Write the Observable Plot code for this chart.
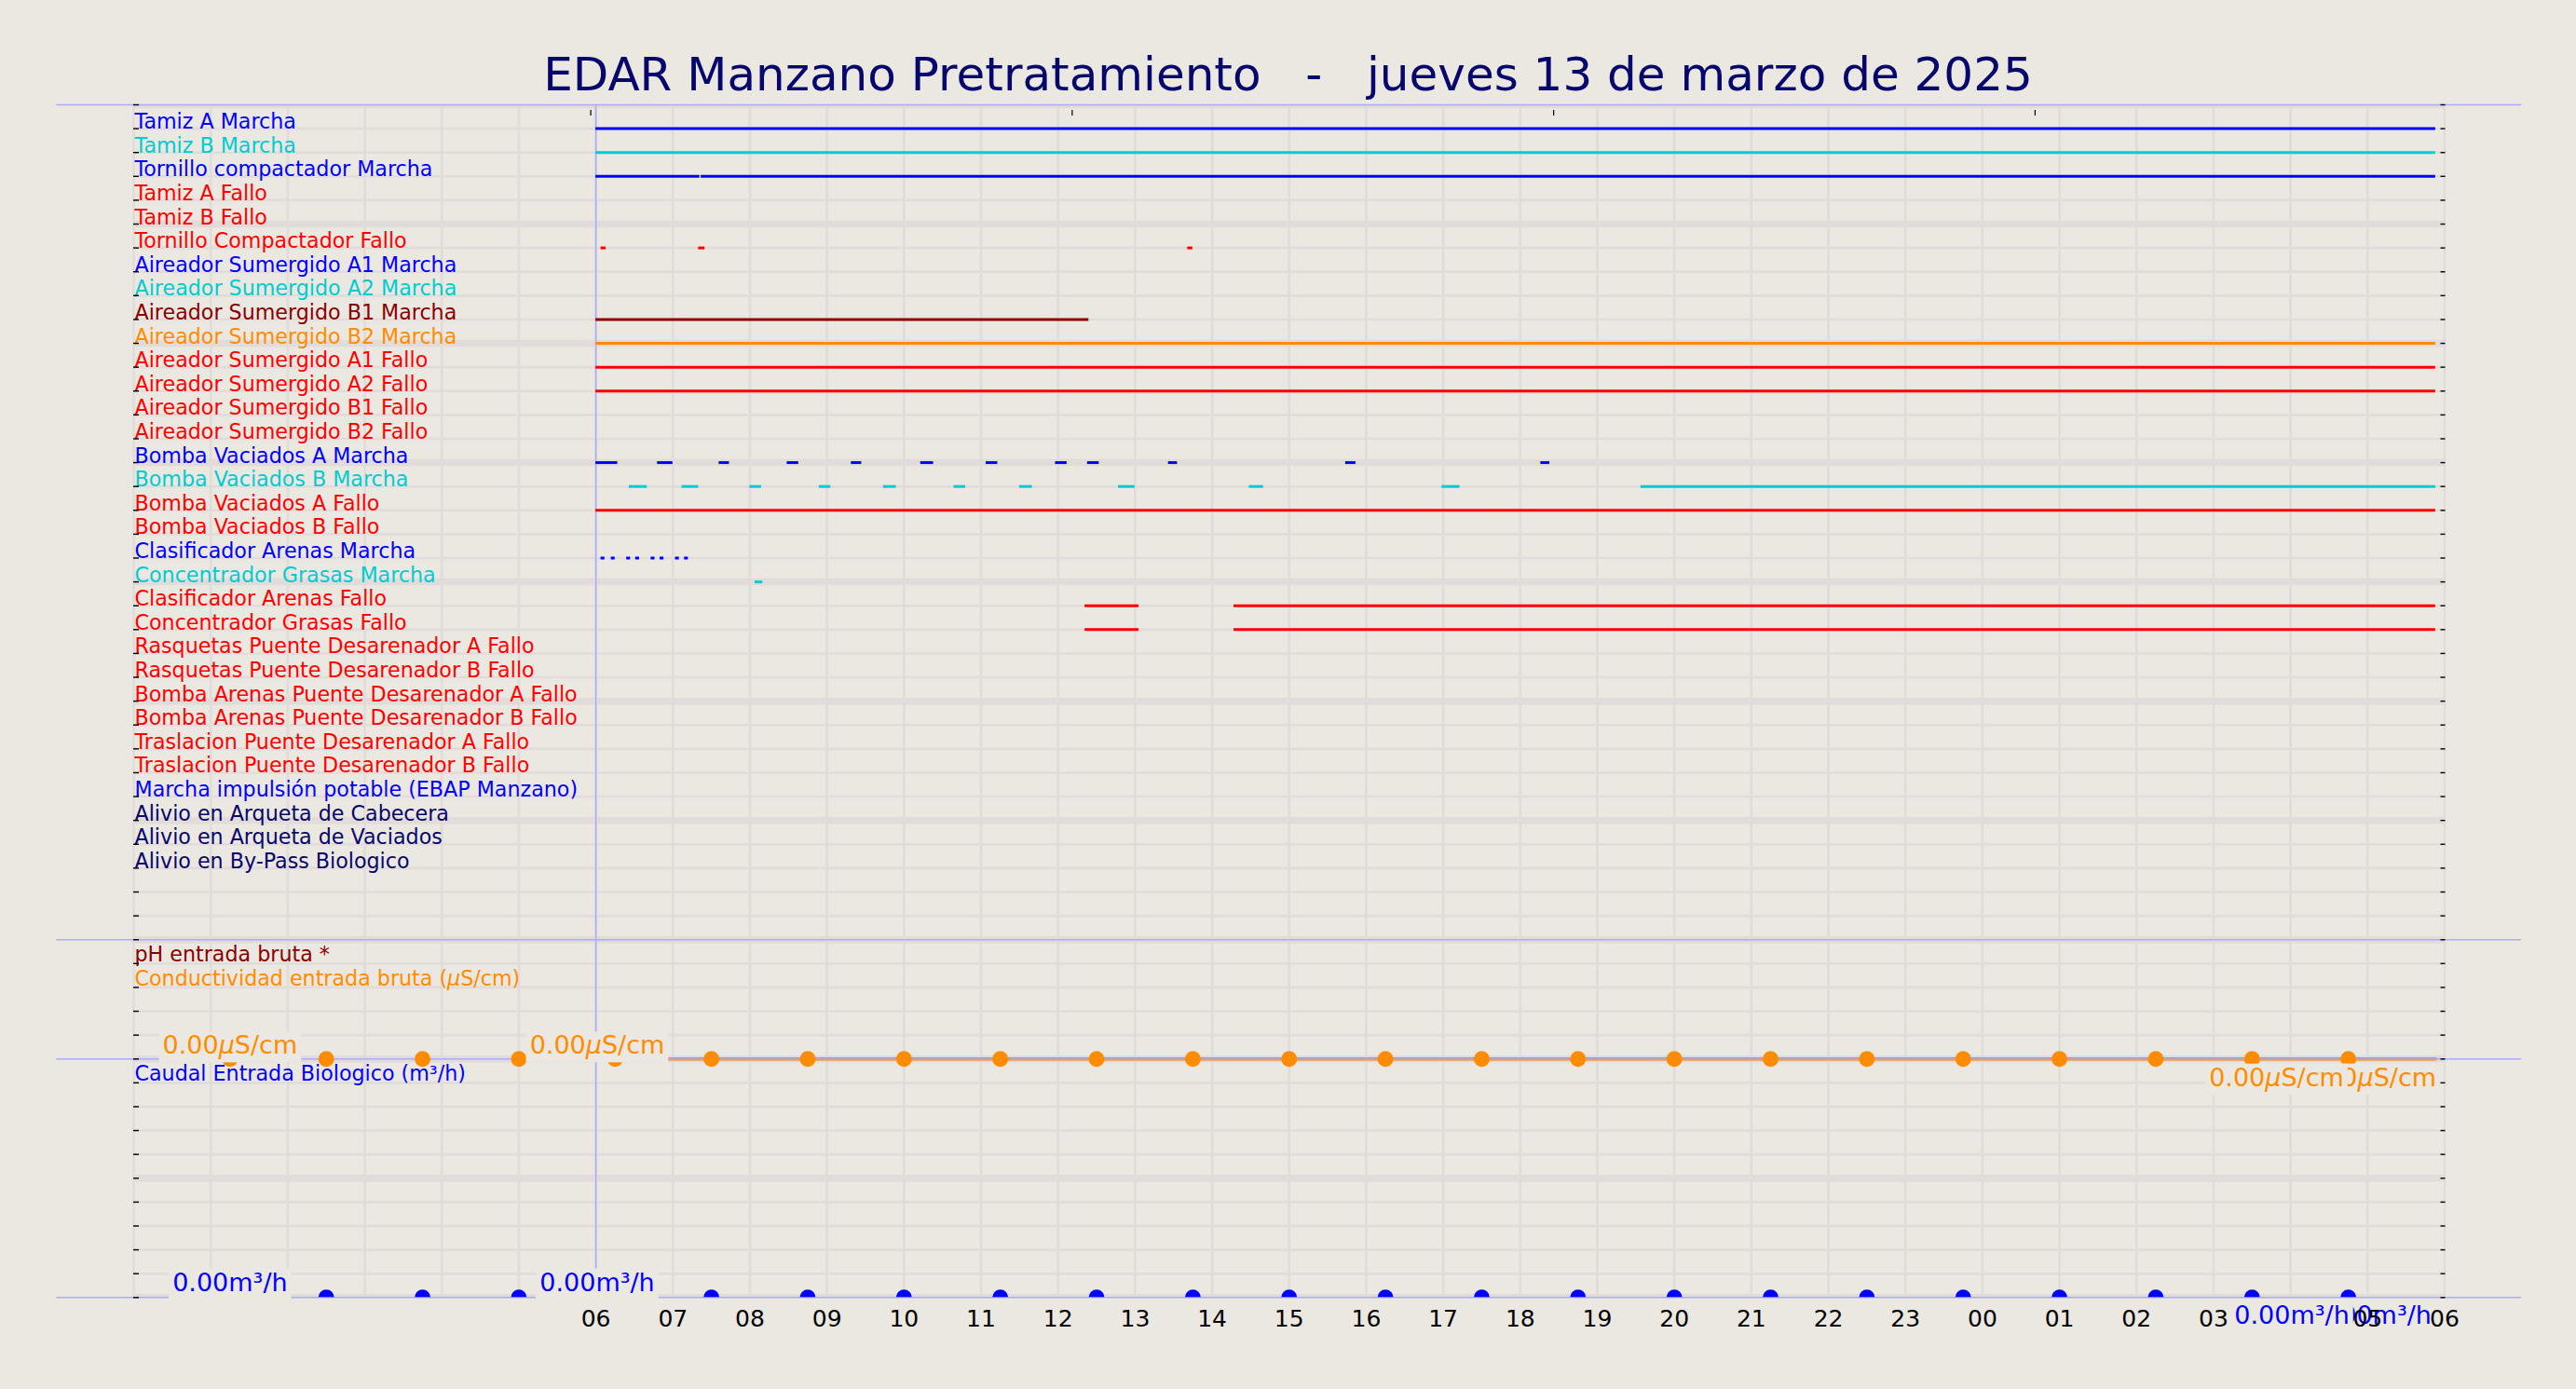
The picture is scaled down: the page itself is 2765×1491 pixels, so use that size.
<!DOCTYPE html>
<html>
<head>
<meta charset="utf-8">
<script src="https://cdn.jsdelivr.net/npm/d3@7"></script>
<script src="https://cdn.jsdelivr.net/npm/@observablehq/plot@0.6"></script>
<style>
  html, body { margin: 0; padding: 0; background: #ebe7e1; }
  body { width: 2765px; height: 1491px; overflow: hidden; font-family: "DejaVu Sans", sans-serif; }
  #title { width: 2765px; height: 100px; box-sizing: border-box; padding-top: 55px; line-height: 50px;
           font-size: 50px; color: #06066c; text-align: center; white-space: pre; }
  #chart svg { display: block; }
</style>
</head>
<body>
<div id="title">EDAR Manzano Pretratamiento   -   jueves 13 de marzo de 2025</div>
<div id="chart"></div>
<script>
// ---------------- DATA ----------------
const rowLabels = [
  "Tamiz A Marcha", "Tamiz B Marcha", "Tornillo compactador Marcha", "Tamiz A Fallo", "Tamiz B Fallo",
  "Tornillo Compactador Fallo", "Aireador Sumergido A1 Marcha", "Aireador Sumergido A2 Marcha",
  "Aireador Sumergido B1 Marcha", "Aireador Sumergido B2 Marcha", "Aireador Sumergido A1 Fallo",
  "Aireador Sumergido A2 Fallo", "Aireador Sumergido B1 Fallo", "Aireador Sumergido B2 Fallo",
  "Bomba Vaciados A Marcha", "Bomba Vaciados B Marcha", "Bomba Vaciados A Fallo", "Bomba Vaciados B Fallo",
  "Clasificador Arenas Marcha", "Concentrador Grasas Marcha", "Clasificador Arenas Fallo",
  "Concentrador Grasas Fallo", "Rasquetas Puente Desarenador A Fallo", "Rasquetas Puente Desarenador B Fallo",
  "Bomba Arenas Puente Desarenador A Fallo", "Bomba Arenas Puente Desarenador B Fallo",
  "Traslacion Puente Desarenador A Fallo", "Traslacion Puente Desarenador B Fallo",
  "Marcha impulsión potable (EBAP Manzano)", "Alivio en Arqueta de Cabecera",
  "Alivio en Arqueta de Vaciados", "Alivio en By-Pass Biologico"
];

// state intervals: [row, start, end]  (day T hh:mm, March 2025)
const segments = [
  [0, "13T06:00", "14T05:53"],
  [1, "13T06:00", "14T05:53"],
  [2, "13T06:00", "13T07:21"], [2, "13T07:22", "14T05:53"],
  [5, "13T06:04", "13T06:08"], [5, "13T07:20", "13T07:25"], [5, "13T13:41", "13T13:45"],
  [8, "13T06:00", "13T12:24"],
  [9, "13T06:00", "14T05:53"],
  [10, "13T06:00", "14T05:53"],
  [11, "13T06:00", "14T05:53"],
  [14, "13T06:00", "13T06:17"], [14, "13T06:48", "13T07:00"], [14, "13T07:36", "13T07:44"],
  [14, "13T08:29", "13T08:38"], [14, "13T09:19", "13T09:27"], [14, "13T10:13", "13T10:23"],
  [14, "13T11:04", "13T11:13"], [14, "13T11:58", "13T12:07"], [14, "13T12:23", "13T12:32"],
  [14, "13T13:26", "13T13:33"], [14, "13T15:44", "13T15:52"], [14, "13T18:16", "13T18:23"],
  [15, "13T06:26", "13T06:40"], [15, "13T07:07", "13T07:20"], [15, "13T08:00", "13T08:09"],
  [15, "13T08:54", "13T09:03"], [15, "13T09:44", "13T09:54"], [15, "13T10:39", "13T10:48"],
  [15, "13T11:30", "13T11:40"], [15, "13T12:47", "13T13:00"], [15, "13T14:29", "13T14:40"],
  [15, "13T16:59", "13T17:13"], [15, "13T19:34", "14T05:53"],
  [16, "13T06:00", "14T05:53"],
  [18, "13T06:04", "13T06:07"], [18, "13T06:12", "13T06:15"], [18, "13T06:24", "13T06:27"],
  [18, "13T06:31", "13T06:34"], [18, "13T06:43", "13T06:46"], [18, "13T06:50", "13T06:53"],
  [18, "13T07:02", "13T07:05"], [18, "13T07:09", "13T07:12"],
  [19, "13T08:04", "13T08:10"],
  [20, "13T12:21", "13T13:03"], [20, "13T14:17", "14T05:53"],
  [21, "13T12:21", "13T13:03"], [21, "13T14:17", "14T05:53"]
];

// sampled analog series (value 0 at every sample)
const sampleTimes = [
  "13T01:15", "13T02:30", "13T03:45", "13T05:00", "13T06:15", "13T07:30", "13T08:45", "13T10:00",
  "13T11:15", "13T12:30", "13T13:45", "13T15:00", "13T16:15", "13T17:30", "13T18:45", "13T20:00",
  "13T21:15", "13T22:30", "13T23:45", "14T01:00", "14T02:15", "14T03:30", "14T04:45"
];
const condValues   = [0,0,0,0,0,0,0,0,0,0,0,0,0,0,0,0,0,0,0,0,0,0,0];
const caudalValues = [0,0,0,0,0,0,0,0,0,0,0,0,0,0,0,0,0,0,0,0,0,0,0];
const condLineTimes  = ["13T06:00", "14T05:53"];
const condLineValues = [0, 0];

// value annotations
const condAnnotTimes    = ["13T01:15", "13T06:01", "14T03:49", "14T05:01"];
const condAnnotValues   = [0, 0, 0, 0];
const caudalAnnotTimes  = ["13T01:15", "13T06:01", "14T04:01", "14T05:05"];
const caudalAnnotValues = [0, 0, 0, 0];

const panelLabels = ["pH entrada bruta *", "Conductividad entrada bruta (μS/cm)", "Caudal Entrada Biologico (m³/h)"];
const panelRows   = [35, 36, 40];

const topTickTimes = ["13T05:56", "13T12:11", "13T18:26", "14T00:41"];

// ---------------- STYLE ----------------
const BLUE = "#0000ff", CYAN = "#00cdd0", RED = "#ff0000", DRED = "#8b0000", ORANGE = "#ff8c00", NAVY = "#06066c";
const rowColors = [BLUE, CYAN, BLUE, RED, RED, RED, BLUE, CYAN, DRED, ORANGE, RED, RED, RED, RED,
  BLUE, CYAN, RED, RED, BLUE, CYAN, RED, RED, RED, RED, RED, RED, RED, RED, BLUE, NAVY, NAVY, NAVY];
const panelColors = [DRED, ORANGE, BLUE];
const BG = "#ebe7e1", GRID = "#e1dcda", LAV = "#aaaaff";

// ---------------- BUILD ----------------
const T = s => new Date(`2025-03-${s}:00Z`);
const segData = segments.map(([row, a, b]) => ({row, start: T(a), end: T(b)}));
const labelData = rowLabels.map((label, row) => ({label, row}));
const cond = sampleTimes.map((t, i) => ({t: T(t), v: condValues[i]}));
const caudal = sampleTimes.map((t, i) => ({t: T(t), v: caudalValues[i]}));
const condLine = condLineTimes.map((t, i) => ({t: T(t), v: condLineValues[i]}));
const condAnn = condAnnotTimes.map((t, i) => ({t: T(t), text: d3.format(".2f")(condAnnotValues[i]) + "μS/cm"}));
const caudalAnn = caudalAnnotTimes.map((t, i) => ({t: T(t), text: d3.format(".2f")(caudalAnnotValues[i]) + "m³/h"}));
const panelData = panelLabels.map((label, i) => ({label, row: panelRows[i], color: panelColors[i]}));

const rowTicks = d3.range(-1, 50);
const hoursAll = d3.utcHour.range(T("13T00:00"), T("14T06:01"));
const hourLabels = d3.utcHour.range(T("13T06:00"), T("14T06:01"));

const CONDROW = 39, CAUDALROW = 49;
const annStyle = {x: "t", text: "text", fontSize: 27, lineAnchor: "bottom", textAnchor: "middle"};

const plot = Plot.plot({
  width: 2765, height: 1391,
  marginTop: 12, marginBottom: 98.7, marginLeft: 143, marginRight: 141.5,
  x: {type: "utc", domain: [T("13T00:00"), T("14T06:00")], label: null},
  y: {domain: [49, -1], label: null},
  color: {type: "identity"},
  style: {background: "transparent", fontFamily: "DejaVu Sans", color: "black", overflow: "visible"},
  marks: [
    Plot.gridX(hoursAll, {stroke: GRID, strokeOpacity: 1, strokeWidth: 2.7}),
    Plot.gridY(rowTicks.filter(r => (r + 1) % 5 !== 0), {stroke: GRID, strokeOpacity: 1, strokeWidth: 2.6, clip: true}),
    Plot.gridY(rowTicks.filter(r => (r + 1) % 5 === 0), {stroke: GRID, strokeOpacity: 1, strokeWidth: 7.5, clip: true}),
    Plot.line(condLine, {x: "t", y: d => CONDROW - d.v, stroke: ORANGE, strokeWidth: 3.5}),
    Plot.ruleY([-1, 34, 39, 49], {x1: () => T("12T23:00"), x2: () => T("14T07:00"), stroke: LAV, strokeWidth: 1.5}),
    Plot.ruleX([T("13T06:00")], {y1: -1, y2: 49, stroke: LAV, strokeWidth: 1.5}),
    Plot.ruleY(segData, {y: "row", x1: "start", x2: "end", stroke: d => rowColors[d.row], strokeWidth: 3}),
    Plot.text(labelData, {frameAnchor: "left", y: "row", text: "label", fill: d => rowColors[d.row],
      textAnchor: "start", lineAnchor: "bottom", fontSize: 22.2, dx: 1}),
    Plot.text(panelData, {frameAnchor: "left", y: "row", text: "label", fill: "color",
      textAnchor: "start", lineAnchor: "bottom", fontSize: 22.2, dx: 1, dy: -2}),
    Plot.axisY(rowTicks, {anchor: "left", tickSize: -6, tickFormat: () => "", stroke: "black", strokeWidth: 1.4}),
    Plot.axisY(rowTicks, {anchor: "right", tickSize: -5, tickFormat: () => "", stroke: "black", strokeWidth: 1.4}),
    Plot.axisX(topTickTimes.map(T), {anchor: "top", tickSize: -6, dy: 5, tickFormat: () => "", stroke: "black", strokeWidth: 1.2}),
    Plot.dot(cond, {x: "t", y: d => CONDROW - d.v, r: 8.5, fill: ORANGE}),
    Plot.dot(caudal, {x: "t", y: d => CAUDALROW - d.v, r: 8.5, fill: BLUE, clip: true}),
    // conductivity value labels
    Plot.text(condAnn.slice(0, 2), {...annStyle, y: () => CONDROW, fill: ORANGE, dy: -5.4}),
    Plot.text([condAnn[3], condAnn[2]], {...annStyle, y: () => CONDROW, fill: ORANGE, dy: 29}),
    // caudal value labels
    Plot.text([caudalAnn[3]], {...annStyle, y: () => CAUDALROW, fill: BLUE, dy: 27.7}),
    Plot.axisX(hourLabels, {anchor: "bottom", tickSize: 0, tickPadding: 13, tickFormat: d3.utcFormat("%H"), fontSize: 25, fill: "black"}),
    Plot.text(caudalAnn.slice(0, 2), {...annStyle, y: () => CAUDALROW, fill: BLUE, dy: -7.3}),
    Plot.text([caudalAnn[2]], {...annStyle, y: () => CAUDALROW, fill: BLUE, dy: 27.7})
  ]
});

document.getElementById("chart").append(plot);

// italic mathtext-like mu
const NS = "http://www.w3.org/2000/svg";
plot.querySelectorAll("text").forEach(t => {
  if (t.childElementCount === 0 && t.textContent.includes("μ")) {
    const parts = t.textContent.split("μ");
    t.textContent = "";
    parts.forEach((p, i) => {
      if (i > 0) {
        const ts = document.createElementNS(NS, "tspan");
        ts.setAttribute("font-style", "italic");
        ts.textContent = "μ";
        t.append(ts);
      }
      if (p) t.append(document.createTextNode(p));
    });
  }
});

// background boxes behind the value annotations
plot.querySelectorAll("text").forEach(t => {
  if (!t.textContent.startsWith("0.00")) return;
  const b = t.getBBox();
  const r = document.createElementNS(NS, "rect");
  r.setAttribute("x", b.x - 4);
  r.setAttribute("y", b.y + 1);
  r.setAttribute("width", b.width + 8);
  r.setAttribute("height", b.height + 2);
  r.setAttribute("fill", BG);
  r.setAttribute("stroke", "none");
  const tr = t.getAttribute("transform");
  if (tr) r.setAttribute("transform", tr);
  t.parentNode.insertBefore(r, t);
});
</script>
</body>
</html>
